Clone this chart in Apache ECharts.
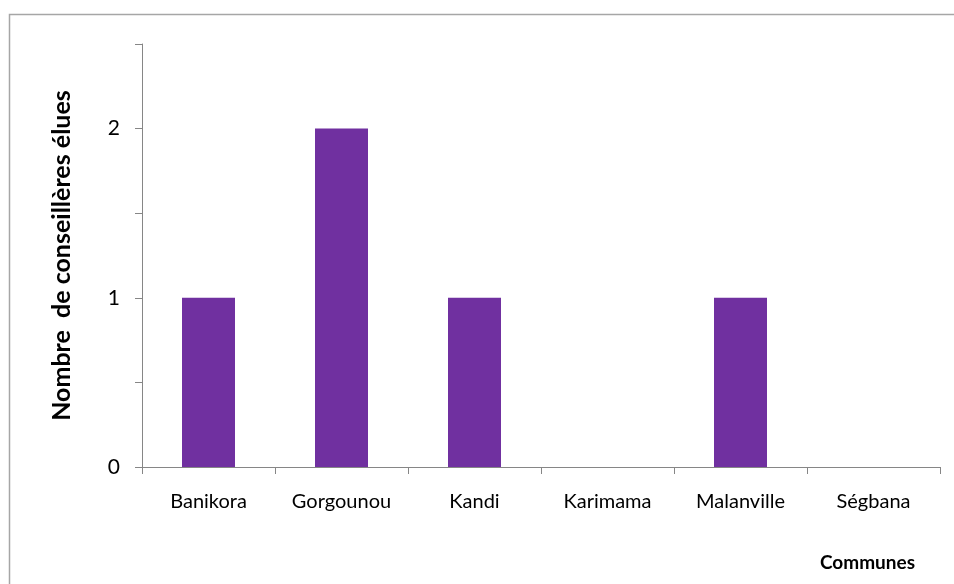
<!DOCTYPE html>
<html>
<head>
<meta charset="utf-8">
<script src="https://cdn.jsdelivr.net/npm/echarts@6/dist/echarts.min.js"></script>
<style>
  html, body { margin: 0; padding: 0; background: #fff; }
  #chart { width: 954px; height: 584px; }
</style>
</head>
<body>
<div id="chart"></div>
<script>
// communes et nombre de conseillères élues
const communes = ['Banikora', 'Gorgounou', 'Kandi', 'Karimama', 'Malanville', 'Ségbana'];
const elues = [1, 2, 1, 0, 1, 0];
const yLabels = [0, 1, 2];

const font = 'Lato, "Open Sans", sans-serif';
const myChart = echarts.init(document.getElementById('chart'));

let option = {
    animation: false,
    backgroundColor: '#fff',
    graphic: [{
        type: 'rect',
        shape: { x: 9.5, y: 14.5, width: 960, height: 600 },
        style: { fill: 'none', stroke: '#a6a6a6', lineWidth: 1.5 }
    }],
    grid: {
        left: 142,
        right: 14,
        top: 44,
        bottom: 117
    },
    xAxis: {
        type: 'category',
        data: communes,
        name: 'Communes',
        nameLocation: 'end',
        nameGap: -25,
        nameTextStyle: {
            color: '#000',
            fontFamily: font,
            fontSize: 19,
            fontWeight: 'bold',
            align: 'right',
            verticalAlign: 'top',
            padding: [86, 0, 0, 0]
        },
        axisLine: { lineStyle: { color: '#868686', width: 1 } },
        axisTick: { show: true, length: 7, lineStyle: { color: '#868686' } },
        axisLabel: {
            color: '#000',
            fontFamily: font,
            fontSize: 20,
            margin: 25
        }
    },
    yAxis: {
        type: 'value',
        min: 0,
        max: 2.5,
        interval: 0.5,
        name: 'Nombre  de conseillères élues',
        nameLocation: 'middle',
        nameGap: 68,
        nameTextStyle: {
            color: '#000',
            fontFamily: font,
            fontSize: 25,
            fontWeight: 'bold'
        },
        axisLine: { show: true, lineStyle: { color: '#868686', width: 1 } },
        axisTick: { show: true, length: 7, lineStyle: { color: '#868686' } },
        axisLabel: {
            color: '#000',
            fontFamily: font,
            fontSize: 21,
            margin: 22,
            // seules les valeurs entières sont affichées
            formatter: function (v) {
                return yLabels.indexOf(v) >= 0 ? String(v) : '';
            }
        },
        splitLine: { show: false }
    },
    series: [{
        type: 'bar',
        data: elues,
        barWidth: 53,
        itemStyle: { color: '#7030a0' }
    }]
};
myChart.setOption(option);
</script>
</body>
</html>
